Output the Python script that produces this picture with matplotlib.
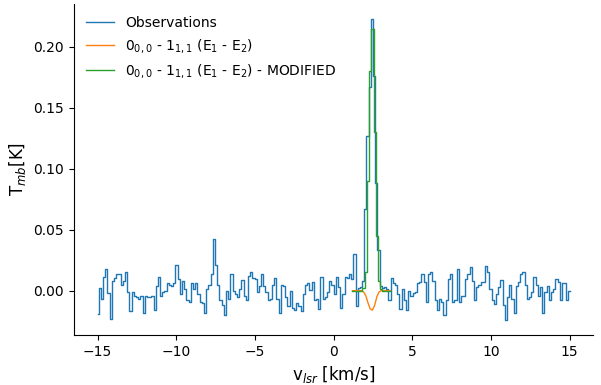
import matplotlib
matplotlib.use("Agg")
import matplotlib.pyplot as plt
import numpy as np

# observed spectrum, channels from -15 to 15 km/s
obs_tmb = [
    -0.019, 0.002, -0.007, 0.011, 0.018, -0.002, -0.023, 0.008, 0.010, 0.014, 0.014,
    0.005, 0.008, 0.015, -0.001, -0.017, -0.001, -0.004, -0.005, -0.007, -0.004, -0.0185,
    -0.004, -0.005, -0.005, -0.004, -0.016, 0.004, 0.011, -0.004, -0.001,
    0.000, 0.006, 0.005, 0.004, 0.006, 0.021, 0.0095, -0.003, 0.008, 0.001,
    -0.008, -0.009, 0.006, 0.001, 0.006, -0.003, -0.0095, -0.010, -0.0185, 0.001,
    0.005, 0.014, 0.042, 0.021, 0.005, -0.008, -0.012, -0.020, 0.000, -0.007,
    0.014, 0.000, -0.003,
    -0.005, 0.001, 0.009, -0.004, -0.008, 0.012, 0.015, 0.010, 0.0095, -0.001,
    0.004, 0.014, 0.004, -0.001, -0.008, -0.007, 0.005, 0.010, -0.007, -0.018,
    0.005, 0.004, -0.005, -0.013, 0.000, -0.014, -0.016, -0.010, -0.013, -0.017,
    -0.003, 0.005, 0.006,
    0.0005, 0.007, -0.008, -0.007, -0.015, 0.011, -0.007, -0.005, -0.001, 0.008,
    0.005, -0.003, 0.011, 0.003, -0.014, -0.003, 0.011, 0.010, 0.014, 0.0095,
    0.030,
    -0.013, 0.002, 0.003, 0.008, 0.067, 0.127, 0.167, 0.223, 0.176,
    0.088, 0.033,
    0.004, 0.002, 0.003, 0.001, -0.008, 0.010, 0.006, 0.005, -0.003,
    -0.015, 0.001, -0.008, -0.016, 0.000, -0.004, -0.002, -0.001, 0.006, 0.007,
    0.014, 0.007, -0.0095, 0.014, 0.015, 0.008, -0.008, -0.016, -0.007, -0.0095,
    -0.020,
    -0.008, 0.0095, 0.014, -0.0095, -0.008, 0.018, -0.0095, -0.004, -0.004, 0.0095,
    0.014, 0.019, 0.008, -0.008, 0.003, 0.005, 0.007, 0.007, 0.020, 0.015,
    0.001, -0.008, -0.011, -0.003, 0.003, 0.009, -0.012, -0.024, -0.005, 0.005,
    -0.007, -0.018,
    0.004, 0.007, 0.014, 0.0155, 0.005, -0.007, -0.005, -0.001, 0.011, 0.005,
    -0.004, 0.003, -0.018, -0.001, 0.004, -0.008, -0.001, 0.001, 0.0095, 0.007,
    -0.008, 0.006, 0.006, -0.008, -0.0005,
]
v_first, v_last = -15.0, 15.0

# line models, 1.2 to 3.6 km/s
model_tmb = [0, 0, 0, 0, 0, -0.001, -0.004, -0.010, -0.015, -0.016,
             -0.012, -0.005, -0.001, 0, 0, 0, 0, 0]
model_mod_tmb = [0, 0, 0, 0, 0, 0.002, 0.015, 0.09, 0.18, 0.215,
                 0.13, 0.045, 0.008, 0.001, 0, 0, 0, 0]
m_first, m_last = 1.2, 3.6

lab_model = r"0$_{0,0}$ - 1$_{1,1}$ (E$_1$ - E$_2$)"

v = np.linspace(v_first, v_last, len(obs_tmb))
vm = np.linspace(m_first, m_last, len(model_tmb))

fig, ax = plt.subplots(figsize=(6.01, 3.85), dpi=100)
fig.subplots_adjust(left=0.123, right=0.987, top=0.99, bottom=0.13)

ax.plot(v, obs_tmb, drawstyle="steps-mid", lw=1, label="Observations")
ax.plot(vm, model_tmb, lw=1, label=lab_model)
ax.plot(vm, model_mod_tmb, drawstyle="steps-mid", lw=1, label=lab_model + " - MODIFIED")

ax.set_xlabel(r"v$_{lsr}$ [km/s]", fontsize=12)
ax.set_ylabel(r"T$_{mb}$[K]", fontsize=12)
ax.spines["top"].set_visible(False)
ax.spines["right"].set_visible(False)
ax.legend(loc="upper left", frameon=False)

plt.savefig("out.png")
